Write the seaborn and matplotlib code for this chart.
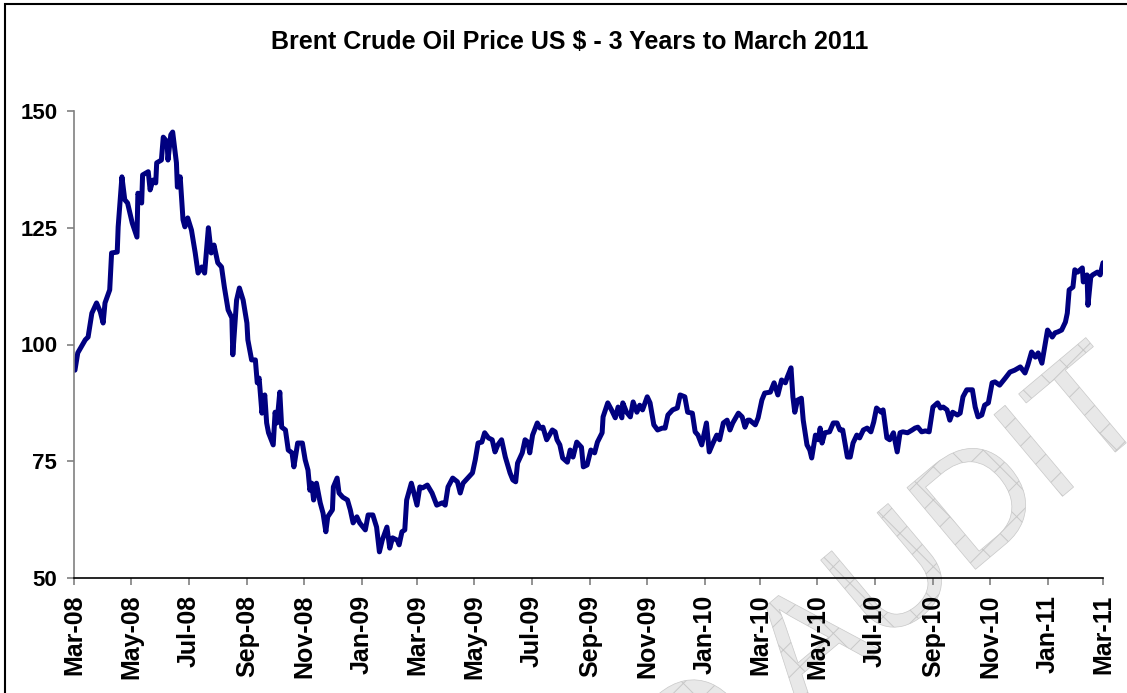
import pandas as pd
import matplotlib
matplotlib.use('Agg')
import matplotlib.pyplot as plt
import matplotlib.dates as mdates
import matplotlib.transforms as mtransforms
from matplotlib.textpath import TextPath
from matplotlib.patches import PathPatch, Rectangle
from matplotlib.font_manager import FontProperties
import seaborn as sns

# Brent crude, US$ per barrel (days counted from 1 Mar 2008)
start_date = '2008-03-01'
day = [1, 4, 12, 15, 19, 24, 28, 31, 33, 38, 40, 46, 47, 51, 54, 57, 62, 67, 68, 72,
       73, 79, 81, 84, 87, 88, 93, 95, 99, 100, 103, 105, 109, 110, 113, 116, 118, 121, 125, 129,
       132, 136, 139, 143, 146, 149, 153, 157, 160, 164, 168, 169, 173, 176, 180, 184, 185, 189, 193, 195,
       197, 200, 203, 205, 207, 212, 214, 216, 219, 221, 225, 228, 232, 234, 238, 243, 246, 249, 251, 253,
       255, 258, 262, 265, 268, 270, 275, 276, 280, 282, 286, 291, 294, 297, 301, 304, 310, 313, 318, 322,
       325, 328, 333, 336, 339, 344, 346, 349, 352, 354, 359, 361, 365, 368, 371, 376, 381, 386, 392, 395,
       398, 403, 408, 411, 414, 419, 424, 427, 430, 434, 437, 441, 445, 448, 451, 455, 459, 464, 467, 470,
       472, 477, 480, 483, 485, 488, 493, 496, 499, 503, 509, 512, 514, 517, 520, 525, 528, 531, 535, 540,
       542, 546, 550, 554, 557, 562, 563, 568, 572, 576, 579, 583, 584, 588, 592, 595, 599, 602, 605, 610,
       613, 617, 621, 626, 629, 632, 637, 642, 645, 650, 653, 658, 661, 664, 668, 673, 676, 680, 684, 687,
       691, 695, 698, 701, 707, 711, 714, 717, 719, 725, 728, 732, 735, 741, 745, 749, 753, 757, 759, 763,
       765, 767, 770, 774, 776, 780, 783, 785, 789, 792, 794, 796, 799, 804, 808, 812, 815, 818, 823, 826,
       829, 833, 836, 840, 844, 848, 851, 854, 859, 861, 865, 868, 872, 876, 879, 882, 887, 892, 895, 898,
       902, 906, 910, 914, 919, 922, 925, 929, 932, 935, 940, 943, 946, 950, 956, 959, 962, 966, 969, 973,
       977, 980, 985, 991, 996, 1001, 1007, 1012, 1015, 1019, 1023, 1026, 1030, 1033, 1036, 1041, 1044, 1047, 1051, 1055,
       1057, 1059, 1063, 1065, 1068, 1073, 1074, 1078, 1079, 1082, 1084, 1089, 1092, 1095]
price = [94.5, 98.2, 101.0, 101.6, 106.7, 108.9, 107.0, 104.6, 108.9, 111.7, 119.6, 119.8, 125.2, 135.9, 131.0, 130.3, 126.0, 123.0, 132.4, 130.3,
         136.3, 137.0, 133.1, 135.2, 134.6, 138.9, 139.5, 144.4, 143.4, 139.5, 144.9, 145.5, 138.9, 133.7, 135.9, 126.7, 125.2, 127.1, 124.5, 119.6,
         115.3, 116.6, 115.3, 125.0, 119.6, 121.3, 117.5, 116.6, 112.3, 107.4, 105.7, 97.8, 109.5, 112.1, 109.5, 104.6, 101.0, 96.7, 96.7, 91.8,
         92.8, 85.3, 89.2, 83.2, 81.1, 78.5, 85.5, 83.2, 89.8, 82.3, 81.7, 77.4, 76.8, 73.8, 78.9, 78.9, 75.3, 73.1, 68.8, 70.3,
         66.7, 70.3, 66.1, 63.9, 59.9, 63.1, 64.6, 69.5, 71.4, 68.2, 67.3, 66.7, 64.6, 61.8, 63.1, 61.8, 60.3, 63.5, 63.5, 60.9,
         55.6, 58.1, 60.9, 56.4, 58.6, 58.1, 57.1, 59.9, 60.3, 66.7, 70.3, 68.8, 65.6, 69.5, 69.3, 69.9, 68.2, 65.6, 66.1, 65.6,
         69.5, 71.4, 70.6, 68.2, 70.3, 71.4, 72.5, 75.3, 78.9, 79.1, 81.1, 80.0, 79.6, 77.0, 78.5, 79.6, 75.9, 72.5, 71.0, 70.6,
         74.6, 76.8, 79.6, 79.1, 76.8, 80.6, 83.2, 82.1, 82.3, 79.6, 81.7, 81.3, 79.6, 78.5, 75.7, 74.8, 77.4, 75.9, 79.1, 78.0,
         73.8, 74.2, 77.4, 76.8, 79.1, 81.1, 84.5, 87.5, 86.0, 84.3, 86.6, 84.3, 87.5, 85.5, 84.5, 87.7, 85.5, 87.0, 86.0, 88.8,
         87.5, 82.8, 81.7, 82.1, 82.1, 84.9, 86.0, 86.4, 89.2, 88.8, 85.5, 85.3, 81.3, 80.6, 78.5, 83.2, 77.0, 78.9, 80.6, 79.6,
         83.2, 83.8, 81.7, 83.2, 85.3, 84.5, 82.3, 83.8, 83.8, 82.8, 84.3, 88.1, 89.6, 89.8, 91.8, 89.2, 92.4, 91.8, 93.0, 95.0,
         88.8, 85.5, 88.1, 88.5, 83.8, 78.5, 77.4, 75.7, 80.6, 79.6, 82.1, 78.9, 81.1, 81.3, 83.2, 83.2, 81.7, 81.7, 75.9, 75.9,
         78.9, 80.6, 80.0, 81.7, 82.1, 81.3, 83.4, 86.4, 85.5, 86.0, 80.0, 79.6, 81.1, 77.0, 81.1, 81.3, 81.1, 81.7, 82.1, 82.3,
         81.3, 81.5, 81.3, 86.6, 87.5, 86.4, 86.6, 86.0, 83.8, 85.5, 84.9, 85.3, 88.8, 90.3, 90.3, 86.6, 84.5, 84.9, 87.0, 87.5,
         91.8, 92.0, 91.3, 92.8, 94.1, 94.5, 95.2, 93.9, 95.6, 98.4, 97.3, 98.2, 96.0, 99.5, 103.1, 101.6, 102.5, 102.7, 103.1, 104.8,
         106.7, 111.7, 112.3, 116.0, 115.5, 116.4, 113.4, 114.9, 108.4, 114.5, 114.9, 115.5, 114.9, 117.5]

y_ticks = [50, 75, 100, 125, 150]
title = 'Brent Crude Oil Price US $ - 3 Years to March 2011'
watermark = 'TO AUDIT'

df = pd.DataFrame({'Date': pd.Timestamp(start_date) + pd.to_timedelta(day, unit='D'),
                   'Price': price})

sns.set_style('white')
plt.rcParams['font.family'] = ['Liberation Sans', 'DejaVu Sans']
plt.rcParams['text.color'] = 'black'
plt.rcParams['xtick.labelcolor'] = 'black'
plt.rcParams['ytick.labelcolor'] = 'black'
plt.rcParams['hatch.linewidth'] = 0.7

W, H = 1127, 693
fig = plt.figure(figsize=(W / 100, H / 100), dpi=100)
ax = fig.add_axes([74 / W, 1 - 578 / H, (1103 - 74) / W, (578 - 111) / H])
ax.set_facecolor('none')

sns.lineplot(data=df, x='Date', y='Price', ax=ax, color='#000080',
             linewidth=3.6, estimator=None, sort=False)

ax.set_ylim(50, 150)
ax.set_yticks(y_ticks)
ax.set_xlim(pd.Timestamp('2008-03-01'), pd.Timestamp('2011-03-01'))
ax.xaxis.set_major_locator(mdates.MonthLocator(bymonth=[1, 3, 5, 7, 9, 11]))
ax.xaxis.set_major_formatter(mdates.DateFormatter('%b-%y'))
ax.set_xlabel('')
ax.set_ylabel('')

for s in ['top', 'right']:
    ax.spines[s].set_visible(False)
ax.spines['left'].set_color('#808080')
ax.spines['left'].set_linewidth(1.2)
ax.spines['bottom'].set_color('black')
ax.spines['bottom'].set_linewidth(1.2)
ax.tick_params(axis='both', direction='out', length=5, width=1.2, color='#808080',
               labelcolor='black', bottom=True, left=True)
ax.tick_params(axis='y', pad=7, labelsize=16)
ax.tick_params(axis='x', pad=7, labelrotation=90, labelsize=18)
for lbl in ax.get_xticklabels() + ax.get_yticklabels():
    lbl.set_fontweight('bold')

fig.text(570 / W, 1 - 42 / H, title, ha='center', va='center',
         fontsize=18, fontweight='bold', color='black')

# hatched watermark behind the chart
tp = TextPath((0, 0), watermark, size=155, prop=FontProperties(family='Liberation Sans'))
bb = tp.get_extents()
tr = (mtransforms.Affine2D()
      .translate(-(bb.x0 + bb.x1) / 2, -(bb.y0 + bb.y1) / 2)
      .rotate_deg(40)
      .translate(850, H - 605))
fig.add_artist(PathPatch(tr.transform_path(tp), facecolor='#e8e8e8', edgecolor='#c8c8c8',
                         hatch='x', linewidth=0.5,
                         transform=mtransforms.IdentityTransform(), zorder=-1))

# chart frame
fig.add_artist(Rectangle((5 / W, -0.05), 1.1, (H - 4) / H + 0.05, transform=fig.transFigure,
                         fill=False, edgecolor='black', linewidth=1.5))

fig.savefig('out.png', dpi=100)
